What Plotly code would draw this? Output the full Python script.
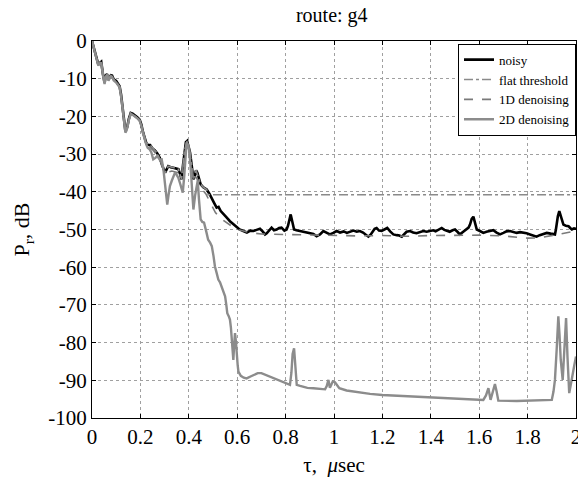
import plotly.graph_objects as go

# ---------------- data ----------------
x_2d = [0, 0.008, 0.014, 0.02, 0.026, 0.032, 0.038, 0.045, 0.052, 0.057, 0.062, 0.068, 0.073, 0.078,
        0.083, 0.09, 0.1, 0.107, 0.114, 0.12, 0.128, 0.133, 0.138, 0.142, 0.146, 0.152, 0.16, 0.168,
        0.176, 0.187, 0.197, 0.204, 0.21, 0.217, 0.224, 0.23, 0.238, 0.245, 0.253, 0.262, 0.27, 0.28,
        0.288, 0.295, 0.303, 0.311, 0.316, 0.322, 0.33, 0.343, 0.35, 0.357, 0.365, 0.375, 0.381, 0.386,
        0.391, 0.397, 0.401, 0.407, 0.412, 0.419, 0.426, 0.433, 0.437, 0.442, 0.449, 0.456, 0.463, 0.472,
        0.48, 0.488, 0.495, 0.502, 0.508, 0.515, 0.522, 0.529, 0.536, 0.543, 0.55, 0.555, 0.559, 0.565,
        0.57, 0.574, 0.577, 0.581, 0.584, 0.588, 0.591, 0.595, 0.598, 0.602, 0.605, 0.615, 0.627, 0.639,
        0.655, 0.67, 0.685, 0.7, 0.715, 0.73, 0.749, 0.77, 0.79, 0.805, 0.818, 0.824, 0.829, 0.835, 0.84,
        0.846, 0.86, 0.89, 0.915, 0.94, 0.963, 0.97, 0.977, 0.983, 0.99, 0.995, 1.004, 1.011, 1.022,
        1.052, 1.1, 1.149, 1.2, 1.259, 1.31, 1.355, 1.41, 1.479, 1.55, 1.617, 1.628, 1.638, 1.647, 1.656,
        1.665, 1.672, 1.679, 1.755, 1.83, 1.9, 1.907, 1.913, 1.92, 1.927, 1.932, 1.937, 1.945, 1.952,
        1.959, 1.965, 1.972, 1.979, 1.986, 1.993, 2.0]
y_2d = [0, -2, -3.5, -5, -6.5, -6, -5.7, -9, -11.4, -9.5, -9, -10.5, -10, -9.3,
        -9.5, -10.5, -11, -11.5, -12.3, -14.5, -18.5, -22, -24.3, -23.8, -23, -21, -19.4, -19.6,
        -19.9, -20.5, -21.2, -22.5, -24.3, -26, -27.4, -28.3, -28.7, -29.5, -31.4, -31, -30.5, -31.5,
        -31.4, -34, -39, -43.4, -41, -38.5, -37, -34.9, -35.5, -36.3, -38, -40.2, -36, -29.5,
        -26.9, -27.5, -28.7, -33, -38.5, -44.7, -41, -37.5, -37, -42, -47.3, -48, -48.2, -50.5,
        -52.7, -53.5, -54.4, -57, -59.8, -61.5, -63.3, -64, -65.1, -66.5, -67.7, -70, -72.2, -73,
        -73.9, -76, -78.4, -82, -84.6, -80, -77.5, -80, -83.7, -86, -87.7, -88.8, -89.3, -89.5,
        -89, -88.5, -88.1, -88.1, -88.5, -89, -89.5, -90, -90.5, -90.8, -91.2, -88, -83, -81.5, -86,
        -91.2, -91.5, -92, -92.1, -92.3, -92.4, -91.5, -89.9, -92, -91, -90.3, -90.5, -91.2, -92.1,
        -92.7, -93.2, -93.6, -93.9, -94.1, -94.2, -94.3, -94.5, -94.8, -95, -95.2, -94, -92.1, -95.2, -93,
        -91, -93, -95.4, -95.5, -95.4, -95.2, -93, -89.9, -82, -73, -78, -84.6, -89.9, -82,
        -73.5, -84, -93.4, -91, -88.1, -86, -83.7]

x_noisy = [0, 0.008, 0.014, 0.02, 0.026, 0.032, 0.038, 0.045, 0.052, 0.057, 0.062, 0.068, 0.073, 0.078,
           0.083, 0.09, 0.1, 0.107, 0.114, 0.12, 0.128, 0.133, 0.138, 0.142, 0.146, 0.152, 0.16, 0.168,
           0.176, 0.187, 0.197, 0.204, 0.21, 0.217, 0.224, 0.23, 0.24, 0.25, 0.26, 0.27, 0.28, 0.29,
           0.302, 0.315, 0.325, 0.336, 0.347, 0.357, 0.365, 0.37, 0.376, 0.382, 0.388, 0.393, 0.4, 0.405,
           0.412, 0.419, 0.425, 0.43, 0.435, 0.442, 0.449, 0.46, 0.474, 0.485, 0.495, 0.505, 0.515, 0.523,
           0.532, 0.543, 0.556, 0.57, 0.585, 0.598, 0.61, 0.625, 0.64, 0.655, 0.667, 0.68, 0.694, 0.705,
           0.715, 0.722, 0.73, 0.742, 0.752, 0.763, 0.773, 0.783, 0.795, 0.804, 0.81, 0.816, 0.821, 0.828,
           0.835, 0.845, 0.86, 0.873, 0.887, 0.9, 0.915, 0.928, 0.942, 0.956, 0.97, 0.983, 0.997, 1.011,
           1.025, 1.04, 1.053, 1.066, 1.08, 1.094, 1.107, 1.12, 1.13, 1.142, 1.152, 1.16, 1.168, 1.176,
           1.186, 1.197, 1.208, 1.22, 1.232, 1.245, 1.26, 1.27, 1.28, 1.29, 1.3, 1.314, 1.327, 1.341,
           1.355, 1.369, 1.383, 1.396, 1.41, 1.42, 1.432, 1.445, 1.456, 1.466, 1.478, 1.49, 1.5, 1.51,
           1.52, 1.534, 1.548, 1.556, 1.562, 1.569, 1.576, 1.583, 1.59, 1.603, 1.617, 1.63, 1.645, 1.658,
           1.672, 1.686, 1.7, 1.713, 1.727, 1.741, 1.755, 1.769, 1.782, 1.796, 1.81, 1.823, 1.837, 1.85,
           1.865, 1.879, 1.895, 1.913, 1.917, 1.92, 1.925, 1.931, 1.938, 1.948, 1.958, 1.969, 1.976, 1.983,
           1.992, 2.0]
y_noisy = [0, -1.8, -3.3, -4.8, -6.2, -5.8, -5.5, -8.7, -11, -9.2, -8.8, -10.2, -9.7, -9.1,
           -9.2, -10.2, -10.6, -11.2, -12, -14.2, -18.1, -21.6, -23.9, -23.4, -22.7, -20.7, -19.1, -19.3,
           -19.6, -20.2, -20.9, -22.2, -24, -25.7, -27, -27.5, -27.6, -28.5, -29, -29.8, -31, -33,
           -34.9, -33.2, -33.5, -33.6, -33.8, -34, -35.5, -36.7, -33, -29, -26.8, -26.5, -28.5, -29.6,
           -33, -36.7, -35.5, -34.3, -34.9, -36.5, -38, -38.8, -39.4, -40.5, -41.6, -43, -44.2, -44,
           -45.1, -46, -46.8, -47.8, -48.6, -49.5, -50, -50.4, -50.8, -50.3, -50.4, -50.1, -49.8, -50.5,
           -51.3, -51, -50.5, -49.5, -50.2, -50, -49.6, -49.5, -50.3, -50, -49, -47, -46, -48,
           -50, -50.2, -50.4, -50.6, -50.9, -50.9, -51.2, -51.8, -51.3, -50.4, -50.8, -51.3, -50.9, -50.4,
           -50.8, -50.5, -50.9, -50.7, -50.3, -50.6, -50.4, -50.8, -51.2, -51.9, -51.3, -50.5, -49.8, -49.6,
           -50.3, -50.4, -50.1, -49.6, -50.5, -51.3, -51.5, -51.6, -51.9, -51.2, -50.6, -50.4, -50.8, -51,
           -50.7, -50.4, -50.6, -50.4, -50.2, -50.5, -50, -49.6, -50.1, -50.4, -50.6, -50.2, -50, -50.6,
           -51.3, -50.6, -50, -49.5, -48.7, -47.2, -46.6, -48.5, -50, -50.4, -50.9, -50.6, -50.4, -50.2,
           -50.8, -51.3, -50.9, -50.5, -50.4, -50.6, -50.9, -50.7, -50.8, -51, -51.3, -51.5, -51.9, -51.5,
           -51.2, -50.9, -51.1, -51.3, -50, -48.2, -46.5, -45.1, -46.8, -48.7, -49, -49.1, -49.6, -50,
           -49.7, -49.8]

x_flat = [0, 0.014, 0.026, 0.038, 0.052, 0.062, 0.073, 0.09, 0.114, 0.128, 0.138, 0.146, 0.16, 0.197,
          0.224, 0.24, 0.27, 0.29, 0.302, 0.315, 0.336, 0.357, 0.37, 0.382, 0.393, 0.405,
          0.419, 0.43, 0.449, 0.46, 0.474, 0.48, 2.0]
y_flat = [0, -3.3, -6.2, -5.5, -11, -8.8, -9.7, -10.2, -12, -18.1, -23.9, -22.7, -19.1, -20.9,
          -27, -27.6, -29.8, -33, -34.9, -33.2, -33.6, -34, -36.7, -29, -26.5, -29.6,
          -36.7, -34.3, -38, -38.8, -39.4, -40.8, -40.8]

x_1d = [0, 0.014, 0.026, 0.038, 0.052, 0.062, 0.073, 0.09, 0.114, 0.128, 0.138, 0.146, 0.16, 0.197,
        0.224, 0.25, 0.28, 0.3, 0.33, 0.36, 0.37, 0.38,
        0.39, 0.4, 0.41, 0.42, 0.43, 0.44, 0.45, 0.47, 0.49, 0.51, 0.53, 0.55, 0.575, 0.6, 0.65,
        0.7, 0.8, 0.9, 1.0, 1.1, 1.2, 1.3, 1.4, 1.5, 1.6, 1.7, 1.8, 1.85, 1.9, 1.95, 2.0]
y_1d = [0, -3.4, -6.3, -5.6, -11.1, -8.9, -9.8, -10.3, -12.1, -18.2, -24, -22.8, -19.2, -21,
        -27.2, -28.8, -31.2, -35, -34.5, -35, -36, -31,
        -27.5, -28.5, -33, -37.5, -36, -37.5, -39, -40.5, -43, -45.5, -47, -48, -49, -50, -50.8,
        -51.2, -51.3, -51.6, -51.6, -51.7, -51.6, -51.8, -51.6, -51.5, -51.5, -51.7, -52.3, -52.2, -51.6, -51, -50.4]

x_ticks = [0, 0.2, 0.4, 0.6, 0.8, 1, 1.2, 1.4, 1.6, 1.8, 2]
x_ticklabels = ["0", "0.2", "0.4", "0.6", "0.8", "1", "1.2", "1.4", "1.6", "1.8", "2"]
y_ticks = [0, -10, -20, -30, -40, -50, -60, -70, -80, -90, -100]
y_ticklabels = ["0", "-10", "-20", "-30", "-40", "-50", "-60", "-70", "-80", "-90", "-100"]

# ---------------- figure ----------------
FONT = "Liberation Serif"
fig = go.Figure()
fig.add_trace(go.Scatter(x=x_noisy, y=y_noisy, mode="lines", name="noisy",
                         line=dict(color="black", width=2.6)))
fig.add_trace(go.Scatter(x=x_flat, y=y_flat, mode="lines", name="flat threshold",
                         line=dict(color="#8a8a8a", width=1.6, dash="dashdot")))
fig.add_trace(go.Scatter(x=x_1d, y=y_1d, mode="lines", name="1D denoising",
                         line=dict(color="#7a7a7a", width=1.6, dash="dash")))
fig.add_trace(go.Scatter(x=x_2d, y=y_2d, mode="lines", name="2D denoising",
                         line=dict(color="#8c8c8c", width=2.4)))

axis_common = dict(showline=True, linecolor="black", linewidth=1, mirror="ticks",
                   ticks="inside", ticklen=4, tickcolor="black", automargin=False,
                   showgrid=True, gridcolor="#a0a0a0", griddash="dot", gridwidth=1,
                   zeroline=False, tickfont=dict(family=FONT, size=21, color="black"))

fig.update_layout(
    width=578, height=479,
    margin=dict(l=92, r=2, t=41, b=61),
    paper_bgcolor="white", plot_bgcolor="white",
    title=dict(text="route: g4", x=0.574, xanchor="center", y=0.968, yanchor="middle",
               font=dict(family=FONT, size=20, color="black")),
    xaxis=dict(range=[0, 2], tickvals=x_ticks, ticktext=x_ticklabels, ticklabeloverflow="allow",
               title=dict(text="τ,  <i>μ</i>sec", font=dict(family=FONT, size=21, color="black"), standoff=9),
               **axis_common),
    yaxis=dict(range=[-100, 0], tickvals=y_ticks, ticktext=y_ticklabels,
               title=dict(text="P<sub>r</sub>, dB", font=dict(family=FONT, size=22, color="black"), standoff=12),
               **axis_common),
    legend=dict(x=1, xanchor="right", y=0.993, yanchor="top",
                bgcolor="white", bordercolor="black", borderwidth=1,
                font=dict(family=FONT, size=13, color="black"),
                tracegroupgap=0),
    showlegend=True,
)

fig.write_html("out.html", config={"displayModeBar": False},
               post_script="document.body.style.margin='0';document.body.style.overflow='hidden';")
